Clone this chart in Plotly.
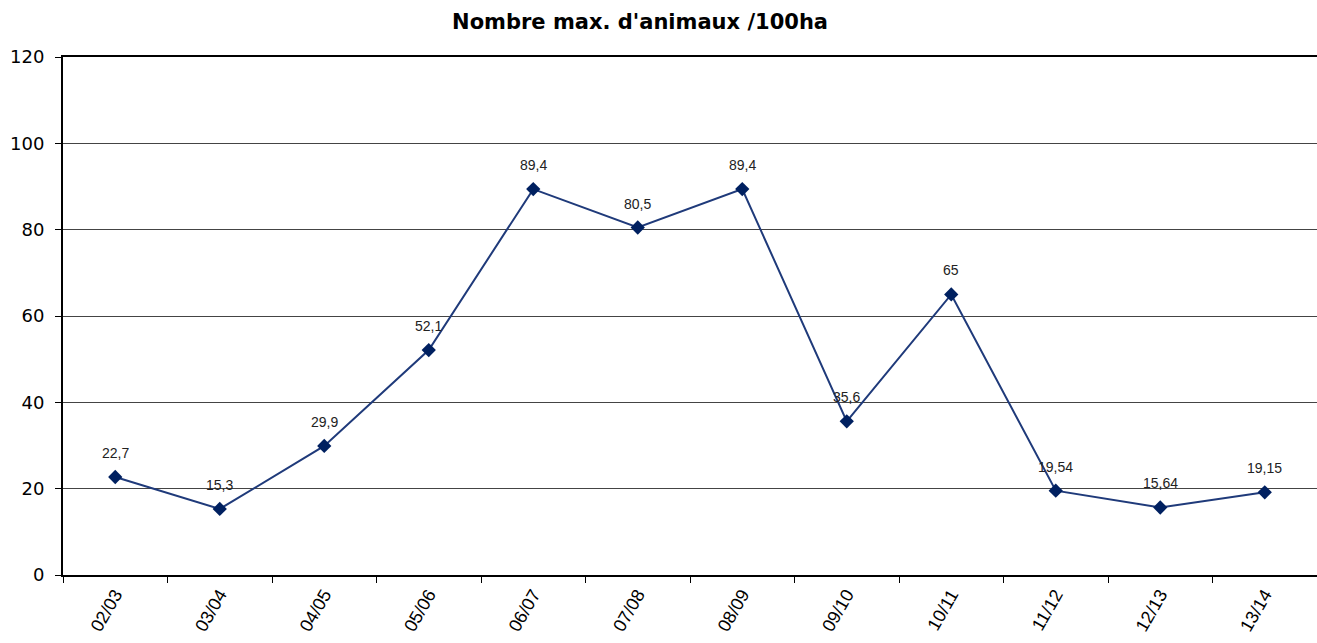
import plotly.graph_objects as go

categories = ["02/03", "03/04", "04/05", "05/06", "06/07", "07/08", "08/09", "09/10", "10/11", "11/12", "12/13", "13/14"]
values = [22.7, 15.3, 29.9, 52.1, 89.4, 80.5, 89.4, 35.6, 65, 19.54, 15.64, 19.15]
labels = ["22,7", "15,3", "29,9", "52,1", "89,4", "80,5", "89,4", "35,6", "65", "19,54", "15,64", "19,15"]
y_ticks = [0, 20, 40, 60, 80, 100, 120]

WIDE = "DejaVu Sans, Liberation Sans, Arial"
ARIAL = "Liberation Sans, Arial"

fig = go.Figure()
fig.add_trace(go.Scatter(
    x=categories, y=values, mode="lines+markers",
    line=dict(color="#1F3A7A", width=2),
    marker=dict(symbol="diamond", size=11, color="#002060"),
    cliponaxis=False, showlegend=False,
))

for c, v, t in zip(categories, values, labels):
    fig.add_annotation(x=c, y=v, text=t, showarrow=False, yanchor="middle",
                       yshift=24, font=dict(family=ARIAL, size=14, color="#222222"))

fig.update_layout(
    width=1317, height=643,
    margin=dict(l=63, r=0, t=57, b=68),
    paper_bgcolor="white", plot_bgcolor="white",
    font=dict(family=WIDE, color="black"),
    title=dict(text="<b>Nombre max. d'animaux /100ha</b>", x=0.486, xanchor="center",
               y=0.966, yanchor="middle", font=dict(family=WIDE, size=21, color="black")),
)
fig.update_xaxes(
    type="category", range=[-0.5, len(categories) - 0.5],
    showgrid=False, showline=True, linecolor="black", linewidth=2,
    mirror=True, ticks="outside", tickson="boundaries", ticklen=6, tickcolor="black",
    tickangle=-60, tickfont=dict(family=ARIAL, size=18, color="black"), automargin=False,
)
fig.update_yaxes(
    range=[0, 120], tickvals=y_ticks, showgrid=True, gridcolor="#444444", gridwidth=1,
    showline=True, linecolor="black", linewidth=2, ticks="outside", ticklen=6,
    tickcolor="black", tickfont=dict(family=WIDE, size=18, color="black"), zeroline=False,
    automargin=False, ticklabelstandoff=7,
)

fig.write_html(
    "out.html",
    config={"displayModeBar": False},
    post_script="document.body.style.margin='0';document.body.style.overflow='hidden';",
)
